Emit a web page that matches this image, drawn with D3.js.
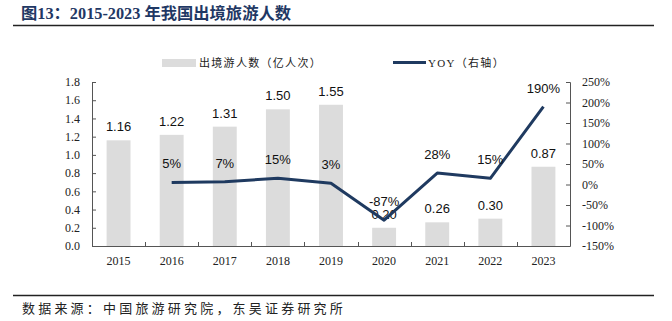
<!DOCTYPE html>
<html><head><meta charset="utf-8">
<script src="https://cdn.jsdelivr.net/npm/d3@7"></script>
<style>
body{margin:0;background:#fff;}
svg{display:block;}
</style></head>
<body>
<svg id="chart" width="672" height="321"></svg>
<script>
const years = ["2015","2016","2017","2018","2019","2020","2021","2022","2023"];
const trips = [1.16,1.22,1.31,1.50,1.55,0.20,0.26,0.30,0.87];
const yoyYears = ["2016","2017","2018","2019","2020","2021","2022","2023"];
const yoy = [5,7,15,3,-87,28,15,190];
const leftTicks = [0,0.2,0.4,0.6,0.8,1.0,1.2,1.4,1.6,1.8];
const rightTicks = [-150,-100,-50,0,50,100,150,200,250];

const svg = d3.select("#chart");
const serif = "'Times New Roman','Liberation Serif','Noto Sans CJK SC',serif";
const sans = "Arial,'Liberation Sans',sans-serif";
const cjk = "'Times New Roman','Liberation Serif','Noto Sans CJK SC',serif";
const navy = "#1f3864";
const lineColor = "#1f3a60";
const barColor = "#dcdcdc";

// title
svg.append("text").attr("x",21).attr("y",19)
  .attr("font-family",cjk).attr("font-weight","bold").attr("font-size",16.3)
  .attr("fill",navy).text("图13：2015-2023 年我国出境旅游人数");
svg.append("line").attr("x1",13).attr("x2",654).attr("y1",25.5).attr("y2",25.5)
  .attr("stroke","#222").attr("stroke-width",1.6);
svg.append("line").attr("x1",13).attr("x2",654).attr("y1",295.5).attr("y2",295.5)
  .attr("stroke","#222").attr("stroke-width",1.6);
svg.append("text").attr("x",22).attr("y",313)
  .attr("font-family","'Noto Sans CJK SC',serif").attr("font-size",13)
  .attr("letter-spacing",3.2).attr("fill","#222").text("数据来源：中国旅游研究院，东吴证券研究所");

const x0 = 92, x1 = 570, yTop = 82, yBot = 246;
const x = d3.scaleBand().domain(years).range([x0,x1]).paddingInner(0.55).paddingOuter(0.275);
const xb = d3.scaleBand().domain(years).range([x0,x1]);
const yL = d3.scaleLinear().domain([0,1.8]).range([yBot,yTop]);
const yR = d3.scaleLinear().domain([-150,250]).range([yBot,yTop]);

// bars
svg.append("g").selectAll("rect").data(years).join("rect")
  .attr("x",d=>x(d)).attr("width",x.bandwidth())
  .attr("y",(d,i)=>yL(trips[i])).attr("height",(d,i)=>yBot-yL(trips[i]))
  .attr("fill",barColor);

// left axis
const gL = svg.append("g").attr("transform",`translate(${x0},0)`)
  .call(d3.axisRight(yL).tickValues(leftTicks).tickSize(4).tickFormat(""));
gL.select(".domain").attr("stroke","#555");
gL.selectAll(".tick line").attr("stroke","#555");
svg.append("g").selectAll("text").data(leftTicks).join("text")
  .attr("x",x0-12).attr("y",d=>yL(d)).attr("dy","0.35em").attr("text-anchor","end")
  .attr("font-family",serif).attr("font-size",12).attr("fill","#222")
  .text(d=>d3.format(".1f")(d));

// right axis
const gR = svg.append("g").attr("transform",`translate(${x1},0)`)
  .call(d3.axisLeft(yR).tickValues(rightTicks).tickSize(4).tickFormat(""));
gR.select(".domain").attr("stroke","#555");
gR.selectAll(".tick line").attr("stroke","#555");
svg.append("g").selectAll("text").data(rightTicks).join("text")
  .attr("x",x1+12).attr("y",d=>yR(d)).attr("dy","0.35em").attr("text-anchor","start")
  .attr("font-family",serif).attr("font-size",12).attr("fill","#222")
  .text(d=>d+"%");

// x axis
svg.append("line").attr("x1",x0).attr("x2",x1).attr("y1",yBot+0.5).attr("y2",yBot+0.5).attr("stroke","#555");
svg.append("g").selectAll("line").data(years.slice(1)).join("line")
  .attr("x1",d=>Math.round(xb(d))+0.5).attr("x2",d=>Math.round(xb(d))+0.5)
  .attr("y1",yBot).attr("y2",yBot-4).attr("stroke","#555");
svg.append("g").selectAll("text").data(years).join("text")
  .attr("x",d=>xb(d)+xb.bandwidth()/2).attr("y",yBot+19).attr("text-anchor","middle")
  .attr("font-family",serif).attr("font-size",12).attr("fill","#222").text(d=>d);

// bar labels
svg.append("g").selectAll("text").data(years).join("text")
  .attr("x",d=>x(d)+x.bandwidth()/2).attr("y",(d,i)=>yL(trips[i])-9)
  .attr("text-anchor","middle").attr("font-family",sans).attr("font-size",13).attr("fill","#111")
  .text((d,i)=>d3.format(".2f")(trips[i]));

// line
const cx = d=>xb(d)+xb.bandwidth()/2;
const line = d3.line().x((d,i)=>cx(yoyYears[i])).y(d=>yR(d));
svg.append("path").datum(yoy).attr("d",line).attr("fill","none")
  .attr("stroke",lineColor).attr("stroke-width",3).attr("stroke-linejoin","round");
svg.append("g").selectAll("text").data(yoy).join("text")
  .attr("x",(d,i)=>cx(yoyYears[i])).attr("y",d=>yR(d)-14)
  .attr("text-anchor","middle").attr("font-family",sans).attr("font-size",13).attr("fill","#111")
  .text(d=>d+"%");

// legend
svg.append("rect").attr("x",162).attr("y",59).attr("width",34).attr("height",8).attr("fill",barColor);
svg.append("text").attr("x",199).attr("y",63).attr("dy","0.35em")
  .attr("font-family",cjk).attr("font-size",11).attr("letter-spacing",1.3).attr("fill","#222").text("出境游人数（亿人次）");
svg.append("line").attr("x1",393).attr("x2",426).attr("y1",62.5).attr("y2",62.5)
  .attr("stroke",lineColor).attr("stroke-width",3);
svg.append("text").attr("x",428).attr("y",63).attr("dy","0.35em")
  .attr("font-family",cjk).attr("font-size",11).attr("letter-spacing",1.3).attr("fill","#222").text("YOY（右轴）");
</script>
</body></html>
